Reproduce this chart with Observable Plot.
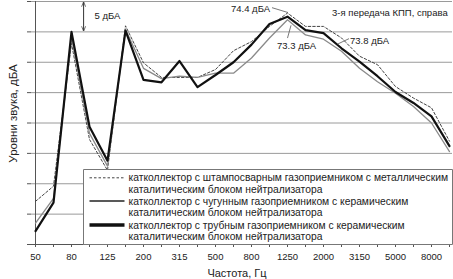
<!DOCTYPE html>
<html>
<head>
<meta charset="utf-8">
<script src="https://cdn.jsdelivr.net/npm/d3@7"></script>
<script src="https://cdn.jsdelivr.net/npm/@observablehq/plot@0.6"></script>
<style>
  html, body { margin: 0; padding: 0; background: #fff; }
  #chart { width: 453px; height: 279px; overflow: hidden; }
</style>
</head>
<body>
<div id="chart"></div>
<script>
// Third-octave band centre frequencies, Hz
const freqs = ["50","63","80","100","125","160","200","250","315","400","500","630","800","1000","1250","1600","2000","2500","3150","4000","5000","6300","8000","10000"];
const tickLabels = ["50","80","125","200","315","500","800","1250","2000","3150","5000","8000"];
const yTicks = [35, 40, 45, 50, 55, 60, 65, 70, 75];

// Sound levels, dBA (y-axis unlabelled, grid step 5 dBA)
const stamped  = [42.1, 44.6, 68.1, 52.3, 47.2, 71.0, 64.9, 62.5, 62.5, 62.5, 63.8, 66.9, 68.4, 70.9, 73.1, 70.9, 70.9, 69.0, 66.0, 64.6, 61.0, 59.1, 57.5, 52.0];
const castIron = [38.5, 42.6, 69.1, 53.3, 47.9, 70.4, 64.0, 62.3, 62.7, 62.5, 63.2, 63.2, 65.7, 69.0, 72.0, 69.5, 68.8, 66.8, 64.0, 61.8, 59.9, 57.7, 55.0, 50.3];
const tubular  = [37.2, 41.9, 70.0, 54.4, 48.8, 70.2, 62.1, 61.7, 65.2, 60.9, 62.9, 65.0, 67.9, 71.3, 72.5, 70.3, 69.8, 67.3, 65.1, 62.7, 60.1, 58.3, 56.1, 51.2];

const seriesNames = [
  ["катколлектор с штампосварным газоприемником с металлическим", "каталитическим блоком нейтрализатора"],
  ["катколлектор с чугунным газоприемником с керамическим", "каталитическим блоком нейтрализатора"],
  ["катколлектор с трубным газоприемником с керамическим", "каталитическим блоком нейтрализатора"]
];
const totals = ["74.4 дБА", "73.3 дБА", "73.8 дБА"];
const stepLabel = "5 дБА";
const titleText = "3-я передача КПП, справа";
const xTitle = "Частота, Гц";
const yTitle = "Уровни звука, дБА";

const styles = [
  {stroke: "#444", strokeWidth: 1, strokeDasharray: "2.5,2"},
  {stroke: "#8a8a8a", strokeWidth: 1.3},
  {stroke: "#111", strokeWidth: 2.2}
];
const rows = (vals) => freqs.map((f, i) => ({f, v: vals[i]}));

const FONT = "'Liberation Sans', Arial, sans-serif";

const plot = Plot.plot({
  width: 453,
  height: 279,
  marginLeft: 31,
  marginRight: 1,
  marginTop: 1,
  marginBottom: 35,
  style: {fontFamily: FONT, fontSize: "9.5px", background: "white", color: "#222"},
  x: {type: "point", domain: freqs, padding: 0},
  y: {domain: [35, 75]},
  marks: [
    Plot.gridY({ticks: yTicks, stroke: "#9a9a9a", strokeOpacity: 1}),
    Plot.axisY({ticks: yTicks, tickFormat: () => "", tickSize: 4, label: null, stroke: "#555"}),
    Plot.ruleX([freqs[0]], {stroke: "#555"}),
    Plot.ruleY([35], {stroke: "#555"}),
    Plot.axisX({ticks: freqs, tickFormat: d => tickLabels.includes(d) ? d : "", tickSize: 3, tickPadding: 6, label: null, stroke: "#555"}),
    Plot.line(rows(stamped), {x: "f", y: "v", ...styles[0]}),
    Plot.line(rows(castIron), {x: "f", y: "v", ...styles[1]}),
    Plot.line(rows(tubular), {x: "f", y: "v", ...styles[2]})
  ]
});

document.getElementById("chart").appendChild(plot);

// Annotations and legend, positioned from the chart's own scales
const sx = plot.scale("x"), sy = plot.scale("y");
const X = f => sx.apply(f);
const Y = v => sy.apply(v);
const svg = d3.select(plot);

const defs = svg.append("defs");
defs.append("marker").attr("id", "ah").attr("viewBox", "0 0 10 10").attr("refX", 9).attr("refY", 5)
  .attr("markerWidth", 5).attr("markerHeight", 5).attr("orient", "auto-start-reverse")
  .append("path").attr("d", "M0,1 L10,5 L0,9").attr("fill", "none").attr("stroke", "#333").attr("stroke-width", 1.4);

const ann = svg.append("g").attr("font-family", FONT).attr("font-size", 9.5).attr("fill", "#222").attr("text-anchor", "start");

// 5 dBA double arrow between grid lines 75 and 70
const ax = X("80") + 0.7 * (X("100") - X("80"));
ann.append("line").attr("x1", ax).attr("x2", ax).attr("y1", Y(74.8)).attr("y2", Y(70.1))
  .attr("stroke", "#333").attr("stroke-width", 1)
  .attr("marker-start", "url(#ah)").attr("marker-end", "url(#ah)");
ann.append("text").attr("x", ax + 11).attr("y", Y(72.6)).attr("dy", "0.35em").text(stepLabel);

ann.append("text").attr("x", X("3150") - 27).attr("y", Y(73)).attr("dy", "0.35em").text(titleText);

// total-level labels with leaders
const lead = (x1, y1, x2, y2) => ann.append("line").attr("x1", x1).attr("y1", y1).attr("x2", x2).attr("y2", y2).attr("stroke", "#555").attr("stroke-width", 0.8);
ann.append("text").attr("x", X("1000") + 1).attr("y", Y(73.7)).attr("dy", "0.35em").attr("text-anchor", "end").text(totals[0]);
lead(X("1000") + 3, Y(73.9), X("1250") + 1, Y(73.1));
ann.append("text").attr("x", X("1250") - 10).attr("y", Y(67.6)).attr("dy", "0.35em").text(totals[1]);
lead(X("1250") + 0.5, Y(68.9), X("1250") + 4, Y(71.0));
ann.append("text").attr("x", X("2500") + 9).attr("y", Y(68.5)).attr("dy", "0.35em").text(totals[2]);
lead(X("2500") - 3.5, Y(67.9), X("2500") + 8, Y(68.8));

// Legend box
const lg = svg.append("g").attr("font-family", FONT).attr("font-size", 10.3).attr("fill", "#222").attr("text-anchor", "start");
const bx0 = Math.round(X("80") + 12) + 0.5, bx1 = 452.5, by0 = Math.round(Y(47.3)) + 0.5, by1 = Math.round(Y(35)) + 0.5;
lg.append("path")
  .attr("d", `M${bx0},${by0}H${bx1}V${by1}H${bx0}Z`)
  .style("fill", "#ffffff").style("stroke", "#777").style("stroke-width", "1px");
const rowY = [by0 + 8.3, by0 + 31.5, by0 + 55.5];
seriesNames.forEach((names, i) => {
  const s = styles[i];
  lg.append("line").attr("x1", bx0 + 6).attr("x2", bx0 + 41).attr("y1", rowY[i]).attr("y2", rowY[i])
    .attr("stroke", i === 1 ? "#222" : s.stroke).attr("stroke-width", i === 2 ? 3.3 : s.strokeWidth)
    .attr("stroke-dasharray", s.strokeDasharray || null);
  lg.append("text").attr("x", bx0 + 45).attr("y", rowY[i]).attr("dy", "0.35em").text(names[0]);
  lg.append("text").attr("x", bx0 + 45).attr("y", rowY[i] + 11.3).attr("dy", "0.35em").text(names[1]);
});

// Axis titles
svg.append("text").attr("font-family", FONT).attr("font-size", 11).attr("fill", "#222")
  .attr("text-anchor", "middle").attr("x", X("1000") - 32).attr("y", 273).attr("dy", "0.35em").text(xTitle);
svg.append("text").attr("font-family", FONT).attr("font-size", 11.5).attr("fill", "#222")
  .attr("text-anchor", "middle").attr("transform", `translate(12.5,${(Y(75)+Y(35))/2 - 9}) rotate(-90)`).attr("dy", "0.35em").text(yTitle);
</script>
</body>
</html>
